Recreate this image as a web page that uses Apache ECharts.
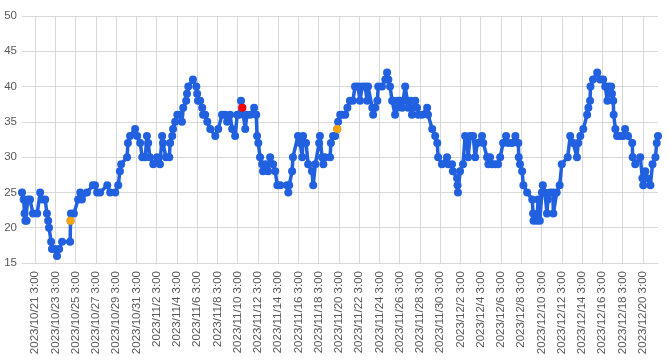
<!DOCTYPE html>
<html>
<head>
<meta charset="utf-8">
<script src="https://cdn.jsdelivr.net/npm/echarts@6/dist/echarts.min.js"></script>
<style>html,body{margin:0;padding:0;background:#fff}#c{width:670px;height:363px}</style>
</head>
<body>
<div id="c"></div>
<script>
// Hours since 2023/10/19 20:00 for each recorded reading
const hours = [
  0, 4, 6, 8, 11, 14, 19, 26, 36, 43,
  48, 55, 59, 62, 64, 69, 71, 78, 83, 88,
  95, 114, 115, 116, 123, 133, 138, 142, 154, 168,
  173, 178, 185, 202, 209, 221, 228, 232, 235, 249,
  251, 256, 268, 273, 280, 285, 292, 296, 299, 303,
  311, 320, 327, 332, 334, 341, 349, 351, 356, 358,
  363, 368, 375, 379, 382, 389, 391, 394, 405, 413,
  415, 417, 422, 427, 429, 434, 439, 446, 458, 465,
  474, 481, 486, 493, 498, 505, 510, 515, 519, 522,
  529, 533, 541, 550, 555, 557, 560, 564, 569, 571,
  578, 583, 588, 595, 600, 605, 612, 628, 631, 633,
  640, 642, 654, 659, 664, 666, 673, 678, 687, 690,
  695, 704, 706, 711, 714, 718, 730, 732, 737, 742,
  747, 749, 754, 759, 766, 771, 777, 784, 789, 796,
  801, 806, 813, 818, 820, 830, 832, 837, 842, 844,
  853, 861, 865, 868, 872, 877, 879, 884, 889, 891,
  896, 901, 903, 908, 913, 915, 920, 924, 932, 936,
  939, 948, 960, 962, 972, 979, 984, 986, 995, 1007,
  1010, 1019, 1021, 1031, 1032, 1033, 1038, 1045, 1050, 1055,
  1057, 1062, 1069, 1074, 1079, 1090, 1093, 1102, 1105, 1109,
  1114, 1121, 1128, 1133, 1140, 1147, 1152, 1161, 1169, 1176,
  1177, 1180, 1185, 1188, 1197, 1209, 1211, 1212, 1220, 1223,
  1227, 1232, 1234, 1239, 1244, 1246, 1251, 1258, 1259, 1267,
  1274, 1279, 1293, 1299, 1306, 1315, 1318, 1323, 1330, 1339,
  1342, 1346, 1347, 1353, 1363, 1370, 1377, 1382, 1387, 1389,
  1396, 1398, 1401, 1402, 1406, 1410, 1417, 1424, 1429, 1436,
  1446, 1447, 1453, 1465, 1470, 1472, 1477, 1481, 1489, 1494,
  1501, 1504, 1507
];
const values = [
  25, 24, 22, 21, 21, 24, 24, 22, 22, 25,
  24, 24, 22, 21, 20, 18, 17, 17, 16, 17,
  18, 18, 21, 22, 22, 24, 25, 24, 25, 26,
  26, 25, 25, 26, 25, 25, 26, 28, 29, 30,
  32, 33, 34, 33, 32, 30, 30, 33, 32, 30,
  29, 30, 29, 33, 32, 30, 30, 32, 33, 34,
  35, 36, 36, 35, 37, 38, 39, 40, 41, 40,
  39, 38, 38, 37, 36, 36, 35, 34, 33, 34,
  36, 36, 35, 36, 34, 33, 36, 36, 38, 37,
  34, 36, 36, 37, 36, 33, 32, 30, 29, 28,
  29, 28, 30, 29, 28, 26, 26, 26, 25, 26,
  28, 30, 33, 32, 30, 33, 32, 29, 28, 26,
  29, 32, 33, 30, 29, 30, 30, 32, 33, 33,
  34, 35, 36, 36, 36, 37, 38, 38, 40, 40,
  38, 40, 40, 38, 40, 37, 36, 37, 38, 40,
  40, 41, 42, 41, 40, 38, 38, 36, 37, 38,
  38, 37, 38, 40, 38, 37, 38, 36, 38, 37,
  36, 36, 37, 36, 34, 33, 32, 30, 29, 30,
  29, 29, 28, 27, 26, 25, 28, 29, 33, 32,
  30, 33, 33, 30, 32, 33, 32, 30, 29, 30,
  29, 29, 29, 30, 32, 33, 32, 32, 33, 32,
  30, 29, 28, 26, 25, 24, 22, 21, 21, 24,
  21, 25, 26, 25, 22, 24, 25, 25, 22, 25,
  26, 29, 30, 33, 32, 30, 32, 33, 34, 36,
  37, 38, 40, 41, 42, 41, 41, 40, 38, 40,
  40, 39, 38, 36, 34, 33, 33, 33, 34, 33,
  32, 30, 29, 30, 27, 26, 28, 27, 26, 29,
  30, 32, 33
];
const orangeHours = [115, 747];
const redHours = [522];

const tickLabels = [
  '2023/10/21 3:00','2023/10/23 3:00','2023/10/25 3:00','2023/10/27 3:00','2023/10/29 3:00',
  '2023/10/31 3:00','2023/11/2 3:00','2023/11/4 3:00','2023/11/6 3:00','2023/11/8 3:00',
  '2023/11/10 3:00','2023/11/12 3:00','2023/11/14 3:00','2023/11/16 3:00','2023/11/18 3:00',
  '2023/11/20 3:00','2023/11/22 3:00','2023/11/24 3:00','2023/11/26 3:00','2023/11/28 3:00',
  '2023/11/30 3:00','2023/12/2 3:00','2023/12/4 3:00','2023/12/6 3:00','2023/12/8 3:00',
  '2023/12/10 3:00','2023/12/12 3:00','2023/12/14 3:00','2023/12/16 3:00','2023/12/18 3:00',
  '2023/12/20 3:00'
];

// hourly categories from 2023/10/19 20:00
const categories = [];
const base = Date.UTC(2023, 9, 19, 20, 0);
for (let i = 0; i <= 1507; i++) {
  const d = new Date(base + i * 3600000);
  categories.push(d.getUTCFullYear() + '/' + (d.getUTCMonth() + 1) + '/' + d.getUTCDate() + ' ' +
    d.getUTCHours() + ':' + String(d.getUTCMinutes()).padStart(2, '0'));
}
const labelSet = new Set(tickLabels);
const showAt = (idx) => labelSet.has(categories[idx]);

const BLUE = '#2161e0';
const lineData = hours.map((h, i) => [h, values[i]]);
const pick = (list, color) => hours
  .map((h, i) => list.includes(h) ? { value: [h, values[i]], itemStyle: { color, opacity: 1 } } : null)
  .filter(Boolean);
const highlightData = pick(orangeHours, '#ffa500').concat(pick(redHours, '#ff0000'));

const FONT = 'Liberation Sans, Arial, sans-serif';
const chart = echarts.init(document.getElementById('c'), null, { renderer: 'canvas' });
chart.setOption({
  animation: false,
  grid: { left: 22, right: 12, top: 16, bottom: 100, containLabel: false },
  xAxis: {
    type: 'category',
    data: categories,
    boundaryGap: false,
    axisLine: { show: true, lineStyle: { color: '#d9d9d9', width: 1 } },
    axisTick: { show: false },
    splitLine: { show: true, interval: showAt, lineStyle: { color: '#d9d9d9', width: 1 } },
    axisLabel: {
      interval: showAt,
      rotate: 90,
      margin: 8,
      color: '#595959',
      fontSize: 11.5,
      fontFamily: FONT
    }
  },
  yAxis: {
    type: 'value',
    min: 15,
    max: 50,
    interval: 5,
    axisLine: { show: false },
    axisTick: { show: false },
    splitLine: { lineStyle: { color: '#d9d9d9', width: 1 } },
    axisLabel: { color: '#595959', fontSize: 11.5, margin: 5, fontFamily: FONT }
  },
  series: [{
    type: 'line',
    data: lineData,
    symbol: 'circle',
    symbolSize: 8,
    showAllSymbol: true,
    lineStyle: { color: BLUE, width: 3.5 },
    itemStyle: { color: BLUE },
    clip: false,
    z: 2
  }, {
    type: 'scatter',
    data: highlightData,
    symbol: 'circle',
    symbolSize: 8,
    itemStyle: { opacity: 1 },
    clip: false,
    z: 5
  }]
});
</script>
</body>
</html>
